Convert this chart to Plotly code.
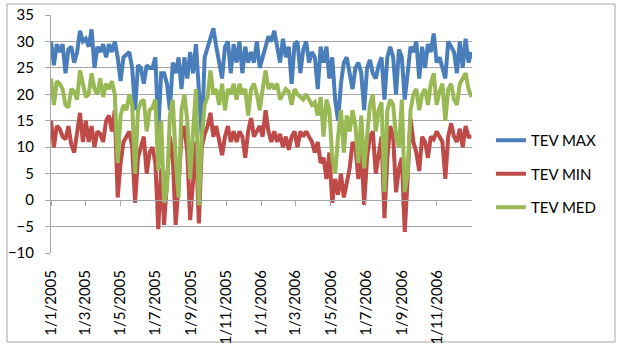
import pandas as pd
import plotly.graph_objects as go
from datetime import datetime

# ---------------- data ----------------
START_DATE = "2005-01-01"
END_DATE = "2006-12-31"
N_POINTS = 146

TICK_LABELS = ["1/1/2005", "1/3/2005", "1/5/2005", "1/7/2005", "1/9/2005", "1/11/2005",
               "1/1/2006", "1/3/2006", "1/5/2006", "1/7/2006", "1/9/2006", "1/11/2006"]

SERIES_NAMES = ["TEV MAX", "TEV MIN", "TEV MED"]

TEV_MAX = [30, 25.5, 29.5, 28, 29.5, 24, 28.5, 29, 26, 28,
           32, 30, 30.5, 29, 32.3, 25, 29, 28, 29.5, 27,
           29.5, 28, 30, 27, 22.5, 27, 27.5, 28, 25, 17,
           25.5, 25, 22, 25.5, 25,
           25, 27, 13, 24, 24,
           22, 17, 26, 24, 27, 21, 27, 23, 28, 24,
           29.5, 22, 12, 27, 29, 30.5, 32.5, 29, 26, 23,
           29, 30, 24, 29.5, 26, 30, 24, 29, 26, 28,
           26, 30, 25, 27,
           29.5, 31, 30, 32, 29, 26,
           30.5, 27, 29, 22, 29.5, 30, 24, 28.5, 30, 26,
           28, 27, 21, 29, 26, 29, 23, 27, 19, 15,
           22, 26, 27, 24, 21, 25, 26, 24,
           17, 25,
           26.5, 24, 23, 25.5, 27, 19, 27, 29, 27, 20,
           28.5, 27, 19, 24, 29, 28, 30, 23, 29, 25,
           29.5, 28, 31.5, 26, 27, 25, 23, 30, 29, 28,
           24, 30, 25, 30.5, 26, 28]

TEV_MIN = [15, 10, 14, 13.5, 12, 11.5, 14, 10.5, 9, 13,
           16.5, 11, 15, 11, 14, 10, 13, 12.5, 11, 15,
           16, 13, 17, 0.5, 7, 11, 12, 13, 10, -0.5,
           8, 10, 12, 5, 9,
           10, 7, -5.5, 6, -4.7,
           5, 12, 8, -4.7, 3, 12, 14, 9, -3.8, 3,
           11, -4.4, 10, 12.5, 14, 16.5, 12, 14, 11, 8.5,
           12, 14, 11, 13, 11, 13, 12, 8, 13, 15.5,
           12, 13, 14, 12,
           17, 13, 11, 13, 11, 12.5,
           10, 12, 9.5, 12, 13, 10, 13, 12, 13, 12,
           11, 9, 11, 7, 8, 4, 9, -0.5, 4, 1,
           5, 0.5, 3, 6, 11, 10, 4, 10,
           -0.9, 8,
           12, 13, 5, 9, 12, -3.4, 8, 14, 12, 1.5,
           6, 8, -6, 4, 15.5, 11, 9, 5.5, 12, 11,
           8, 12, 11.5, 13, 12, 11, 4, 12, 14.5, 12,
           11, 13.5, 10, 14, 12, 12]

TEV_MED = [23, 18, 22.5, 22, 21, 18, 17.5, 21, 20.5, 19,
           24.5, 22, 19.5, 20, 24, 21, 20, 23, 19.5, 22,
           21, 22.5, 20, 7, 16, 18, 17, 20, 18, 5,
           17, 18.5, 19, 13, 17,
           17.5, 19, 5.6, 15, -0.5,
           2, 16, 19, 8, 0.5, 17, 20, 15, 4, 13,
           21, -1, 12, 18, 19.5, 24.5, 20, 21, 18, 22,
           17, 21, 20, 22, 19, 22, 20, 21, 16, 21,
           22, 20, 17, 21,
           24.5, 21, 22, 21, 22, 19,
           20, 21, 20.5, 18, 21, 20, 19.5, 19, 20, 19,
           18, 18.5, 16, 19.5, 12, 19, 17, 8, 5, 12,
           17, 9, 16, 13, 17, 14, 7, 16,
           6, 12,
           18, 20, 13, 17, 18.5, 1.5, 17, 19, 18, 12,
           10, 19, 1.5, 5, 17, 20, 21, 17, 20, 21,
           18, 22, 24, 18, 20.5, 22, 15, 21, 22, 19,
           18, 22, 23, 24, 21, 19.5]

COLORS = ["#4A7EBB", "#BE4B48", "#98B954"]

# ---------------- figure ----------------
dates = pd.date_range(START_DATE, END_DATE, periods=N_POINTS)
tick_vals = [datetime.strptime(t, "%d/%m/%Y") for t in TICK_LABELS]

fig = go.Figure()
for name, vals, col in zip(SERIES_NAMES, [TEV_MAX, TEV_MIN, TEV_MED], COLORS):
    fig.add_trace(go.Scatter(x=dates, y=vals, mode="lines", name=name,
                             legendgroup=name,
                             line=dict(color=col, width=4)))

# helper trace for the tick axis that crosses at y=0
fig.add_trace(go.Scatter(x=tick_vals, y=[None] * len(tick_vals), xaxis="x2",
                         mode="lines", showlegend=False, hoverinfo="skip"))

FONT = "Lato, 'Open Sans', sans-serif"
GRID = "#A6A6A6"
x_range = ["2005-01-01", "2007-01-01"]

fig.update_layout(
    width=622, height=348,
    margin=dict(l=51, r=150, t=15, b=95, autoexpand=False),
    paper_bgcolor="white", plot_bgcolor="white",
    font=dict(family=FONT, color="black"),
    showlegend=True,
    legend=dict(x=1.045, xanchor="left", y=0.332, yanchor="middle",
                font=dict(size=15, family=FONT), tracegroupgap=11,
                bgcolor="rgba(0,0,0,0)"),
    xaxis=dict(type="date", range=x_range, tickmode="array", automargin=False,
               tickvals=tick_vals, ticktext=TICK_LABELS, tickangle=-90,
               showgrid=False, zeroline=False, showline=False, ticks="",
               ticklabelstandoff=13,
               tickfont=dict(size=15, family=FONT)),
    xaxis2=dict(type="date", range=x_range, overlaying="x", anchor="free",
                position=10 / 45, tickmode="array", tickvals=tick_vals,
                automargin=False,
                showticklabels=False, showgrid=False, zeroline=False,
                showline=True, linecolor=GRID, linewidth=1,
                ticks="outside", ticklen=5, tickcolor=GRID, side="bottom"),
    yaxis=dict(range=[-10, 35], dtick=5, tick0=0, showgrid=True,
               automargin=False,
               gridcolor=GRID, gridwidth=1, zeroline=False,
               showline=True, linecolor=GRID, linewidth=1,
               ticks="outside", ticklen=5, tickcolor=GRID,
               ticklabelstandoff=8,
               tickfont=dict(size=15, family=FONT)),
)

# outer chart border
fig.add_shape(type="rect", xref="paper", yref="paper",
              x0=-0.1045, x1=1.3397, y0=-0.374, y1=1.046,
              line=dict(color="#A6A6A6", width=1), fillcolor="rgba(0,0,0,0)",
              layer="below")

fig.write_html("out.html")
